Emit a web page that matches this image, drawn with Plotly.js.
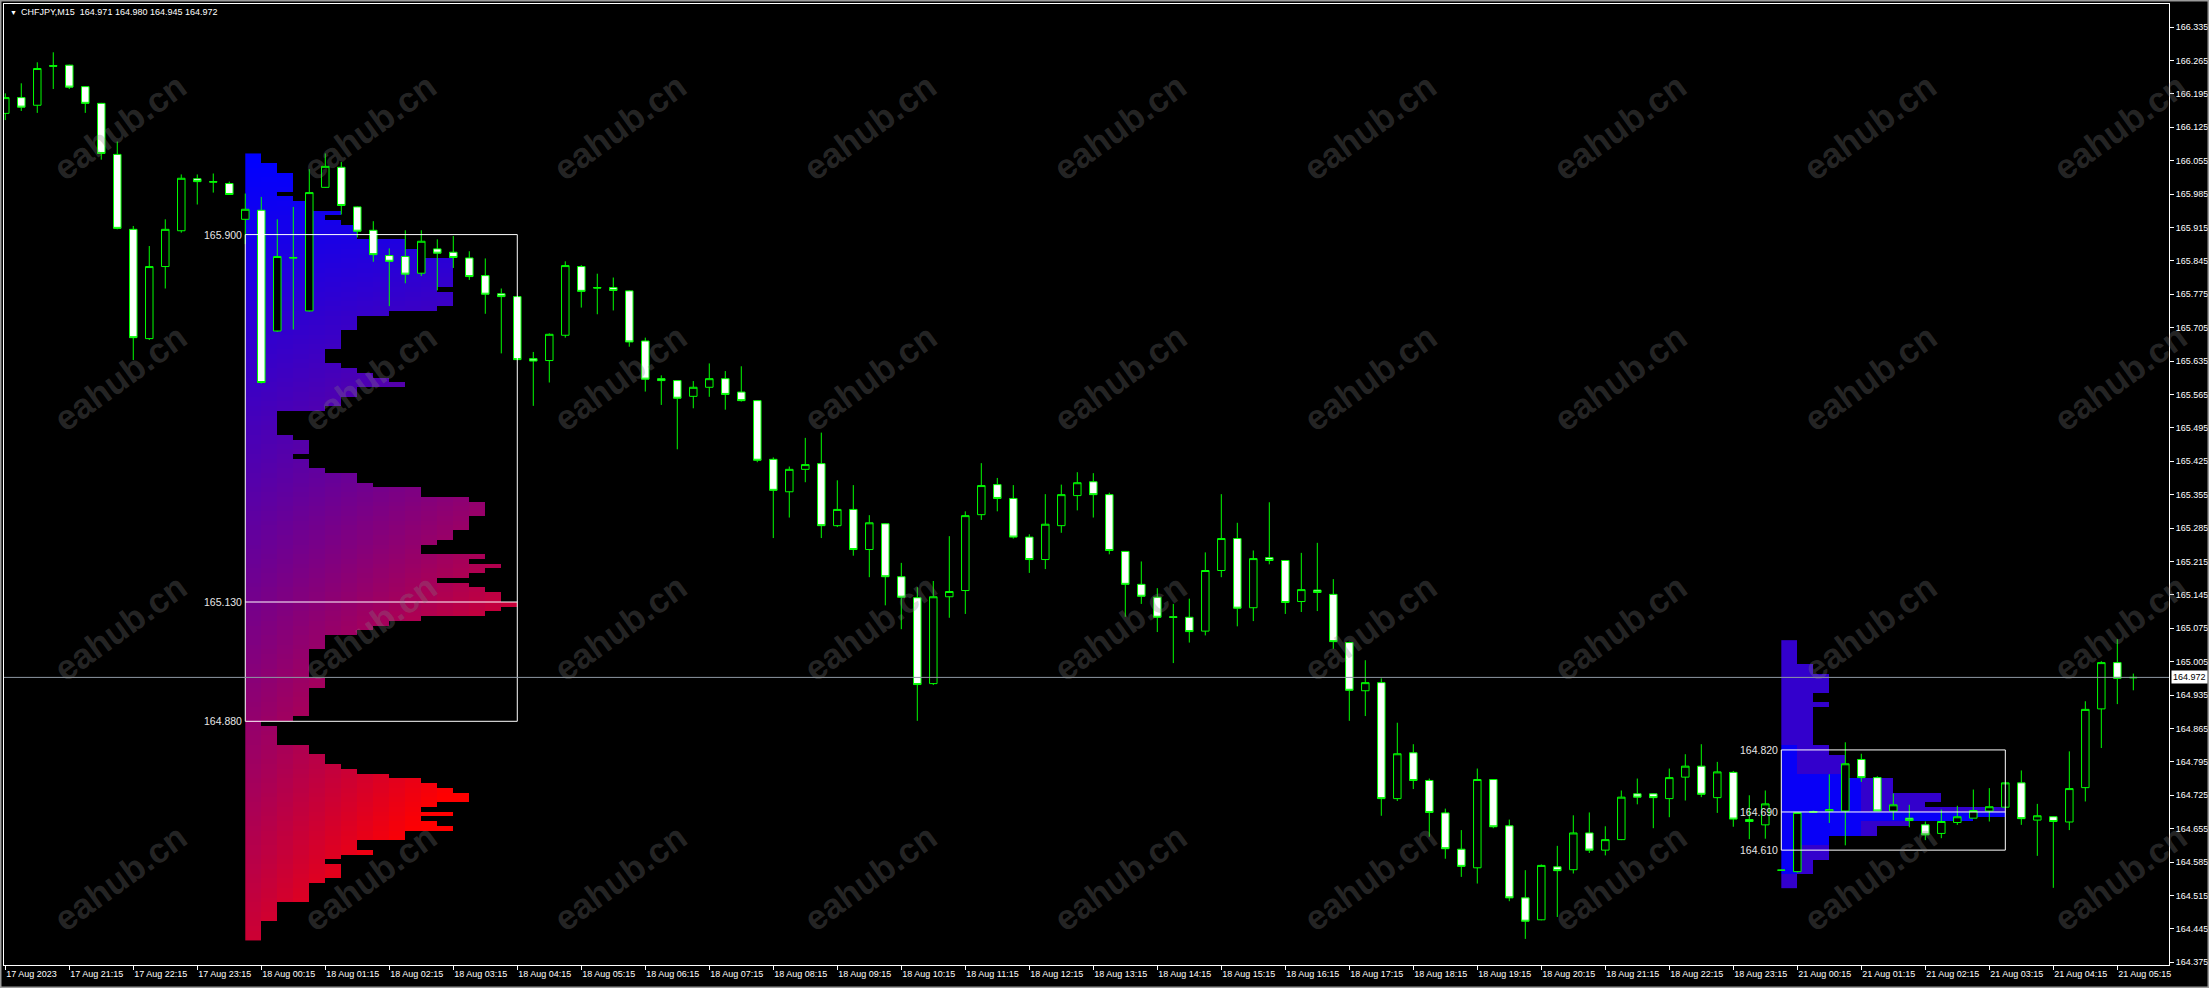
<!DOCTYPE html>
<html>
<head>
<meta charset="utf-8">
<script src="https://cdn.plot.ly/plotly-3.0.1.min.js"></script>
<style>
  html, body { margin: 0; padding: 0; background: #000; }
  #chart { width: 2209px; height: 988px; }
</style>
</head>
<body>
<div id="chart"></div>
<script>
// ---------------- DATA ----------------
const symbolTitle = 'CHFJPY,M15\u00a0\u00a0164.971 164.980 164.945 164.972';

const tickLabels = [
  '17 Aug 2023','17 Aug 21:15','17 Aug 22:15','17 Aug 23:15',
  '18 Aug 00:15','18 Aug 01:15','18 Aug 02:15','18 Aug 03:15','18 Aug 04:15','18 Aug 05:15',
  '18 Aug 06:15','18 Aug 07:15','18 Aug 08:15','18 Aug 09:15','18 Aug 10:15','18 Aug 11:15',
  '18 Aug 12:15','18 Aug 13:15','18 Aug 14:15','18 Aug 15:15','18 Aug 16:15','18 Aug 17:15',
  '18 Aug 18:15','18 Aug 19:15','18 Aug 20:15','18 Aug 21:15','18 Aug 22:15','18 Aug 23:15',
  '21 Aug 00:15','21 Aug 01:15','21 Aug 02:15','21 Aug 03:15','21 Aug 04:15','21 Aug 05:15'
];
const tickBars = [0,4,8,12,16,20,24,28,32,36,40,44,48,52,56,60,64,68,72,76,80,84,88,92,96,100,104,108,112,116,120,124,128,132];

const open = [
166.154,166.187,166.171,166.254,166.255,166.210,166.175,166.068,165.911,165.682,
165.833,165.908,166.017,166.011,166.007,165.932,165.951,165.698,165.852,165.740,
165.999,166.041,165.958,165.909,165.856,165.854,165.819,165.870,165.863,165.851,
165.814,165.776,165.770,165.640,165.636,165.689,165.833,165.789,165.789,165.782,
165.677,165.598,165.594,165.561,165.580,165.598,165.570,165.552,165.429,165.361,
165.408,165.420,165.290,165.324,165.240,165.294,165.183,165.139,164.959,165.141,
165.154,165.313,165.376,165.347,165.266,165.219,165.290,165.353,165.382,165.355,
165.236,165.167,165.140,165.099,165.098,165.069,165.196,165.263,165.118,165.223,
165.217,165.131,165.155,165.146,165.045,164.944,164.961,164.718,164.814,164.756,
164.688,164.612,164.573,164.758,164.661,164.510,164.464,164.575,164.569,164.646,
164.610,164.632,164.728,164.728,164.718,164.763,164.786,164.720,164.773,164.674,
164.663,164.568,164.565,164.689,164.692,164.692,164.800,164.762,164.692,164.677,
164.663,164.645,164.668,164.677,164.692,164.700,164.751,164.673,164.680,164.669,
164.741,164.906,165.003,164.971];
const high = [
166.196,166.217,166.261,166.282,166.256,166.211,166.176,166.095,165.918,165.876,
165.932,166.026,166.026,166.028,166.011,165.986,165.979,165.932,165.958,166.037,
166.070,166.052,165.959,165.928,165.871,165.909,165.909,165.890,165.897,165.865,
165.850,165.787,165.771,165.654,165.693,165.844,165.836,165.818,165.810,165.783,
165.684,165.605,165.595,165.593,165.630,165.614,165.624,165.553,165.433,165.414,
165.474,165.485,165.385,165.375,165.312,165.295,165.212,165.161,165.174,165.268,
165.320,165.421,165.390,165.375,165.272,165.356,165.376,165.402,165.400,165.359,
165.237,165.215,165.159,165.126,165.137,165.234,165.356,165.296,165.238,165.339,
165.218,165.233,165.254,165.178,165.047,165.008,164.970,164.877,164.832,164.760,
164.697,164.652,164.781,164.759,164.674,164.568,164.580,164.619,164.683,164.689,
164.660,164.735,164.760,164.729,164.781,164.811,164.832,164.795,164.776,164.725,
164.735,164.569,164.689,164.693,164.769,164.836,164.812,164.765,164.729,164.705,
164.670,164.695,164.703,164.737,164.740,164.751,164.777,164.707,164.681,164.817,
164.922,165.006,165.052,164.980];
const low = [
166.140,166.159,166.155,166.205,166.205,166.155,166.057,165.911,165.637,165.679,
165.787,165.904,165.963,165.988,165.983,165.880,165.588,165.696,165.701,165.739,
165.998,165.942,165.894,165.843,165.750,165.798,165.813,165.783,165.830,165.805,
165.734,165.651,165.637,165.541,165.590,165.684,165.747,165.733,165.741,165.665,
165.571,165.543,165.450,165.536,165.560,165.533,165.550,165.423,165.264,165.307,
165.381,165.264,165.287,165.227,165.182,165.123,165.073,164.881,164.956,165.097,
165.105,165.302,165.320,165.263,165.191,165.199,165.275,165.322,165.307,165.230,
165.099,165.126,165.067,165.002,165.045,165.060,165.182,165.079,165.090,165.209,
165.105,165.109,165.111,165.032,164.881,164.891,164.682,164.713,164.738,164.638,
164.592,164.554,164.540,164.656,164.503,164.424,164.463,164.470,164.561,164.604,
164.599,164.631,164.706,164.656,164.679,164.714,164.721,164.688,164.659,164.633,
164.634,164.567,164.563,164.688,164.667,164.620,164.753,164.692,164.673,164.658,
164.631,164.635,164.663,164.677,164.670,164.700,164.663,164.598,164.531,164.652,
164.712,164.824,164.916,164.945];
const close = [
166.187,166.167,166.248,166.253,166.209,166.175,166.070,165.913,165.684,165.833,
165.911,166.018,166.011,166.010,165.984,165.953,165.590,165.854,165.851,165.988,
166.043,165.961,165.907,165.858,165.844,165.817,165.886,165.861,165.852,165.812,
165.775,165.770,165.638,165.635,165.691,165.835,165.781,165.788,165.783,165.675,
165.597,165.594,165.557,165.580,165.598,165.565,165.552,165.427,165.364,165.408,
165.418,165.290,165.324,165.240,165.296,165.183,165.140,164.957,165.141,165.152,
165.311,165.374,165.347,165.266,165.219,165.293,165.355,165.380,165.355,165.238,
165.167,165.142,165.098,165.098,165.068,165.196,165.263,165.117,165.221,165.217,
165.129,165.156,165.150,165.047,164.945,164.961,164.718,164.812,164.756,164.689,
164.613,164.576,164.758,164.659,164.510,164.461,164.578,164.567,164.646,164.610,
164.632,164.721,164.721,164.720,164.762,164.786,164.727,164.774,164.675,164.670,
164.707,164.568,164.689,164.691,164.695,164.791,164.762,164.692,164.705,164.672,
164.642,164.670,164.680,164.693,164.701,164.751,164.676,164.682,164.670,164.739,
164.905,165.003,164.970,164.972];

// Volume profile (18 Aug session): widths in bars per 0.01 price row, from the top row down
const profile1Top = 166.07;
const profile1StartBar = 15;
const profile1Widths = [
1,1,2,2,3,3,3,3,2,3, 4,4,6,5,6,7,7,7,10,10,
11,11,13,13,13,13,13,13,12,13, 13,13,12,9,7,7,7,6,6,6,
6,5,5,5,6,7,8,9,10,7, 7,6,6,5,2,2,2,2,2,3,
4,4,4,3,4,4,5,7,7,8, 11,11,14,15,15,15,14,14,14,13,
13,12,11,11,15,14,16,15,14,12, 14,15,16,16,17,16,15,11,9,8,
7,5,5,5,4,4,4,4,4,4, 5,5,4,4,4,4,4,4,3,1,
2,2,2,2,4,4,5,5,6,7, 9,11,12,13,14,14,12,11,13,11,
12,13,10,10,7,7,8,6,5,6, 6,6,5,4,4,4,4,2,2,2,
2,1,1,1,1];
const box1 = {start: 15, end: 32, high: 165.900, poc: 165.130, low: 164.880};

// Volume profile (21 Aug session)
const profile2Top = 165.05;
const profile2StartBar = 111;
const profile2Widths = [
1,1,1,1,1,2,2,3,3,3, 3,2,2,3,2,2,2,2,2,2,
2,2,3,3,4,4,4,4,4,7, 7,7,10,10,9,14,14,12,8,6,
6,3,3,3,3,3,2,2,2,1, 1,1];
const box2 = {start: 111, end: 125, high: 164.820, poc: 164.690, low: 164.610};

const bidPrice = 164.972;

// ---------------- BUILD ----------------
const bars = open.map((_, i) => i);
const FONT = 'Liberation Sans, Arial, sans-serif';

function profileTrace(widths, top, startBar, colorFn) {
  const maxW = Math.max(...widths);
  const xs = [], ys = [], z = [];
  for (let c = 0; c < maxW; c++) xs.push(startBar + c + 0.5);
  widths.forEach((w, k) => {
    ys.push(top - 0.01 * (k + 0.5));
    const row = [];
    for (let c = 0; c < maxW; c++) row.push(c < w ? colorFn(k, c, widths.length) : null);
    z.push(row);
  });
  return {
    type: 'heatmap', x: xs, y: ys, z: z, zmin: 0, zmax: 1,
    colorscale: [[0, 'rgb(0,0,255)'], [0.5, 'rgb(128,0,128)'], [1, 'rgb(255,0,0)']],
    showscale: false, hoverinfo: 'skip', zsmooth: false
  };
}

const prof1 = profileTrace(profile1Widths, profile1Top, profile1StartBar, (k, c, n) => {
  const tr = k / (n - 1);
  return Math.min(1, tr * (0.8 + 0.035 * c));
});
const prof2 = profileTrace(profile2Widths, profile2Top, profile2StartBar, (k, c) => {
  const bright = (c === 0 && k >= 22 && k <= 48) || (c <= 4 && k >= 28 && k <= 42) || (k >= 36 && k <= 37);
  return bright ? 0.03 : 0.2;
});

const candles = {
  type: 'candlestick', x: bars, open: open, high: high, low: low, close: close,
  increasing: {line: {color: '#00ff00', width: 1}, fillcolor: '#000000'},
  decreasing: {line: {color: '#00ff00', width: 1}, fillcolor: '#ffffff'},
  whiskerwidth: 0, hoverinfo: 'skip', showlegend: false
};

// geometry of the plot area
const W = 2209, H = 988;
const M = {l: 4, r: 40, t: 4, b: 23};
const pw = W - M.l - M.r, ph = H - M.t - M.b;
const xRange = [-0.08, 135.23];
const yRange = [164.3693, 166.3832];

const shapes = [];
function boxShapes(b) {
  shapes.push({type: 'rect', xref: 'x', yref: 'y', x0: b.start, x1: b.end, y0: b.low, y1: b.high,
    line: {color: '#ffffff', width: 1}, layer: 'above'});
  shapes.push({type: 'line', xref: 'x', yref: 'y', x0: b.start, x1: b.end, y0: b.poc, y1: b.poc,
    line: {color: '#ffffff', width: 1}, layer: 'above'});
}
boxShapes(box1);
boxShapes(box2);
shapes.push({type: 'line', xref: 'paper', yref: 'y', x0: 0, x1: 1, y0: bidPrice, y1: bidPrice,
  line: {color: '#8e99a4', width: 1}, layer: 'above'});
// window frame
shapes.push({type: 'rect', xref: 'paper', yref: 'paper',
  x0: -M.l / pw, x1: 1 + M.r / pw, y0: -M.b / ph, y1: 1 + M.t / ph,
  line: {color: '#9a9a9a', width: 3}, layer: 'above'});

const annotations = [];
// watermarks
for (let r = 0; r < 4; r++) {
  for (let c = 0; c < 9; c++) {
    const px = 120 + 250 * c, py = 127 + 250 * r;
    annotations.push({
      xref: 'paper', yref: 'paper', x: (px - M.l) / pw, y: 1 - (py - M.t) / ph,
      text: '<b>eahub.cn</b>', showarrow: false, textangle: -36,
      font: {family: FONT, size: 35, color: 'rgba(130,130,130,0.30)'},
      xanchor: 'center', yanchor: 'middle'
    });
  }
}
// box price labels
function boxLabels(b) {
  [b.high, b.poc, b.low].forEach(p => annotations.push({
    xref: 'x', yref: 'y', x: b.start, y: p, text: p.toFixed(3), showarrow: false,
    xanchor: 'right', yanchor: 'middle', xshift: -1,
    font: {family: FONT, size: 10.5, color: '#e6e6e6'}
  }));
}
boxLabels(box1);
boxLabels(box2);
// title
annotations.push({xref: 'paper', yref: 'paper', x: (8 - M.l) / pw, y: 1 - (12 - M.t) / ph,
  text: '\u25BC', showarrow: false, xanchor: 'left', yanchor: 'middle',
  font: {family: FONT, size: 7, color: '#ffffff'}});
annotations.push({xref: 'paper', yref: 'paper', x: (19 - M.l) / pw, y: 1 - (12 - M.t) / ph,
  text: symbolTitle, showarrow: false, xanchor: 'left', yanchor: 'middle',
  font: {family: FONT, size: 9, color: '#ffffff'}});
// bid price label
annotations.push({xref: 'paper', yref: 'y', x: 1, y: bidPrice, text: bidPrice.toFixed(3),
  showarrow: false, xanchor: 'left', yanchor: 'middle', xshift: 2,
  bgcolor: '#ffffff', borderpad: 1,
  font: {family: FONT, size: 9, color: '#000000'}});

const layout = {
  width: W, height: H, margin: M, autosize: false,
  paper_bgcolor: '#000000', plot_bgcolor: '#000000',
  showlegend: false, boxgap: 0.33,
  xaxis: {
    range: xRange, fixedrange: true, rangeslider: {visible: false},
    tickmode: 'array', tickvals: tickBars, ticktext: tickLabels,
    ticks: 'outside', ticklen: 4, tickcolor: '#ffffff', tickwidth: 1,
    ticklabelposition: 'outside right',
    showline: true, linecolor: '#ffffff', linewidth: 1, mirror: true,
    showgrid: false, zeroline: false,
    tickfont: {family: FONT, size: 9, color: '#ffffff'}
  },
  yaxis: {
    range: yRange, fixedrange: true, side: 'right',
    tickmode: 'linear', tick0: 164.375, dtick: 0.07, tickformat: '.3f',
    ticks: 'outside', ticklen: 4, tickcolor: '#ffffff', tickwidth: 1,
    showline: true, linecolor: '#ffffff', linewidth: 1, mirror: true,
    showgrid: false, zeroline: false,
    tickfont: {family: FONT, size: 9, color: '#ffffff'}
  },
  shapes: shapes,
  annotations: annotations
};

Plotly.newPlot('chart', [prof1, prof2, candles], layout, {staticPlot: true, displayModeBar: false});
</script>
</body>
</html>
